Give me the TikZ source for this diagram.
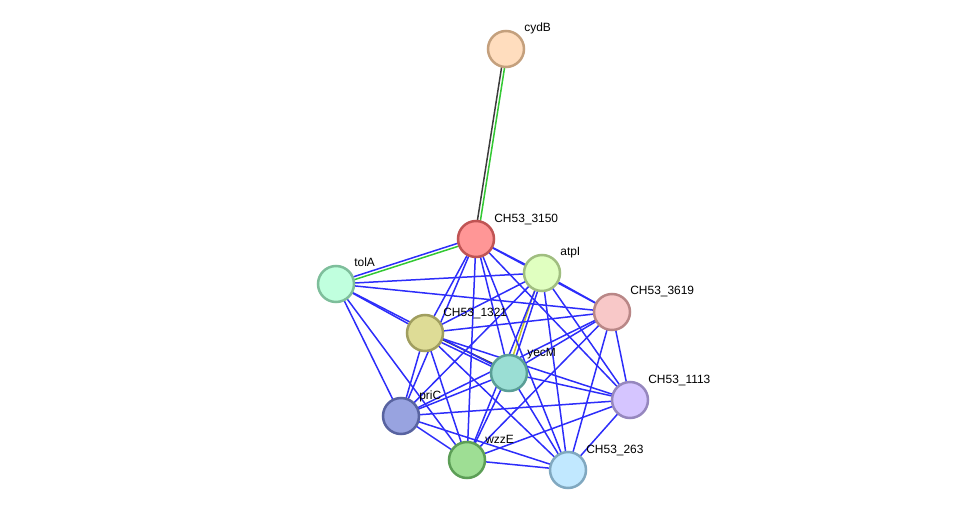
\documentclass[tikz,border=0pt]{standalone}
\usepackage{fontspec}
\setmainfont{Liberation Sans}
\usetikzlibrary{calc,backgrounds}

\definecolor{evblue}{RGB}{45,45,250}
\definecolor{evgreen}{RGB}{50,200,50}
\definecolor{evblack}{RGB}{60,60,60}
\definecolor{evyellow}{RGB}{200,200,40}

\tikzset{
    prot/.style={circle, draw, line width=0.5mm, minimum size=7.2mm, inner sep=0pt},
    lab/.style={anchor=base west, inner sep=0pt, font=\fontsize{6.8}{8}\selectfont},
    edge/.style={evblue, line width=0.3mm},
}

\begin{document}
\begin{tikzpicture}[x=0.2mm, y=-0.2mm]
    \useasboundingbox (0,0) rectangle (975,516);

    % Proteins
    \node[prot, fill={rgb,255:red,255;green,221;blue,190}, draw={rgb,255:red,196;green,160;blue,125}] (cydB) at (506,49) {};
    \node[prot, fill={rgb,255:red,255;green,150;blue,150}, draw={rgb,255:red,192;green,84;blue,84}] (c3150) at (476,239) {};
    \node[prot, fill={rgb,255:red,224;green,255;blue,192}, draw={rgb,255:red,160;green,190;blue,128}] (atpI) at (542,273) {};
    \node[prot, fill={rgb,255:red,192;green,255;blue,222}, draw={rgb,255:red,126;green,190;blue,155}] (tolA) at (336,284) {};
    \node[prot, fill={rgb,255:red,248;green,200;blue,200}, draw={rgb,255:red,185;green,135;blue,135}] (c3619) at (612,312) {};
    \node[prot, fill={rgb,255:red,222;green,220;blue,150}, draw={rgb,255:red,160;green,158;blue,95}] (c1321) at (425,333) {};
    \node[prot, fill={rgb,255:red,154;green,222;blue,212}, draw={rgb,255:red,90;green,158;blue,150}] (yecM) at (509,373) {};
    \node[prot, fill={rgb,255:red,213;green,197;blue,255}, draw={rgb,255:red,150;green,135;blue,190}] (c1113) at (630,400) {};
    \node[prot, fill={rgb,255:red,152;green,163;blue,224}, draw={rgb,255:red,88;green,99;blue,160}] (priC) at (401,416) {};
    \node[prot, fill={rgb,255:red,158;green,222;blue,148}, draw={rgb,255:red,92;green,158;blue,86}] (wzzE) at (467,460) {};
    \node[prot, fill={rgb,255:red,193;green,232;blue,255}, draw={rgb,255:red,128;green,168;blue,192}] (c263) at (568,470) {};

    % Labels
    \node[lab] (cydB-lab) at ([xshift=3.6mm, yshift=3.4mm]cydB.center) {cydB};
    \node[lab] (c3150-lab) at ([xshift=3.6mm, yshift=3.4mm]c3150.center) {CH53\_3150};
    \node[lab] (atpI-lab) at ([xshift=3.6mm, yshift=3.4mm]atpI.center) {atpI};
    \node[lab] (tolA-lab) at ([xshift=3.6mm, yshift=3.4mm]tolA.center) {tolA};
    \node[lab] (c3619-lab) at ([xshift=3.6mm, yshift=3.4mm]c3619.center) {CH53\_3619};
    \node[lab] (c1321-lab) at ([xshift=3.6mm, yshift=3.4mm]c1321.center) {CH53\_1321};
    \node[lab] (yecM-lab) at ([xshift=3.6mm, yshift=3.4mm]yecM.center) {yecM};
    \node[lab] (c1113-lab) at ([xshift=3.6mm, yshift=3.4mm]c1113.center) {CH53\_1113};
    \node[lab] (priC-lab) at ([xshift=3.6mm, yshift=3.4mm]priC.center) {priC};
    \node[lab] (wzzE-lab) at ([xshift=3.6mm, yshift=3.4mm]wzzE.center) {wzzE};
    \node[lab] (c263-lab) at ([xshift=3.6mm, yshift=3.4mm]c263.center) {CH53\_263};

    \begin{scope}[on background layer]
    % Double edges
    \draw[edge, evblack] ($(cydB)!0.3mm!-90:(c3150)$) -- ($(c3150)!0.3mm!90:(cydB)$);
    \draw[edge, evgreen] ($(cydB)!0.3mm!90:(c3150)$) -- ($(c3150)!0.3mm!-90:(cydB)$);
    \draw[edge] ($(tolA)!0.3mm!90:(c3150)$) -- ($(c3150)!0.3mm!-90:(tolA)$);
    \draw[edge, evgreen] ($(tolA)!0.3mm!-90:(c3150)$) -- ($(c3150)!0.3mm!90:(tolA)$);
    \draw[edge, evyellow] ($(atpI)!0.3mm!-90:(yecM)$) -- ($(yecM)!0.3mm!90:(atpI)$);
    \draw[edge] ($(atpI)!0.3mm!90:(yecM)$) -- ($(yecM)!0.3mm!-90:(atpI)$);
    \draw[edge] ($(c1321)!0.3mm!-90:(yecM)$) -- ($(yecM)!0.3mm!90:(c1321)$);
    \draw[edge, evblack] ($(c1321)!0.3mm!90:(yecM)$) -- ($(yecM)!0.3mm!-90:(c1321)$);

    % tolA
    \draw[edge] (tolA.center) -- (atpI.center);
    \draw[edge] (tolA.center) -- (c3619.center);
    \draw[edge] (tolA.center) -- (c1321.center);
    \draw[edge] (tolA.center) -- (yecM.center);
    \draw[edge] (tolA.center) -- (priC.center);
    \draw[edge] (tolA.center) -- (wzzE.center);

    % CH53_3150
    \draw[edge] (c3150.center) -- (atpI.center);
    \draw[edge] (c3150.center) -- (c3619.center);
    \draw[edge] (c3150.center) -- (c1321.center);
    \draw[edge] (c3150.center) -- (yecM.center);
    \draw[edge] (c3150.center) -- (c1113.center);
    \draw[edge] (c3150.center) -- (priC.center);
    \draw[edge] (c3150.center) -- (wzzE.center);
    \draw[edge] (c3150.center) -- (c263.center);

    % atpI
    \draw[edge] (atpI.center) -- (c3619.center);
    \draw[edge] (atpI.center) -- (c1321.center);
    \draw[edge] (atpI.center) -- (c1113.center);
    \draw[edge] (atpI.center) -- (priC.center);
    \draw[edge] (atpI.center) -- (wzzE.center);
    \draw[edge] (atpI.center) -- (c263.center);

    % CH53_3619
    \draw[edge] (c3619.center) -- (c1321.center);
    \draw[edge] (c3619.center) -- (yecM.center);
    \draw[edge] (c3619.center) -- (c1113.center);
    \draw[edge] (c3619.center) -- (priC.center);
    \draw[edge] (c3619.center) -- (wzzE.center);
    \draw[edge] (c3619.center) -- (c263.center);

    % CH53_1321
    \draw[edge] (c1321.center) -- (c1113.center);
    \draw[edge] (c1321.center) -- (priC.center);
    \draw[edge] (c1321.center) -- (wzzE.center);
    \draw[edge] (c1321.center) -- (c263.center);

    % yecM
    \draw[edge] (yecM.center) -- (c1113.center);
    \draw[edge] (yecM.center) -- (priC.center);
    \draw[edge] (yecM.center) -- (wzzE.center);
    \draw[edge] (yecM.center) -- (c263.center);

    % lower ring
    \draw[edge] (c1113.center) -- (priC.center);
    \draw[edge] (c1113.center) -- (wzzE.center);
    \draw[edge] (c1113.center) -- (c263.center);
    \draw[edge] (priC.center) -- (wzzE.center);
    \draw[edge] (priC.center) -- (c263.center);
    \draw[edge] (wzzE.center) -- (c263.center);
    \end{scope}
\end{tikzpicture}
\end{document}
